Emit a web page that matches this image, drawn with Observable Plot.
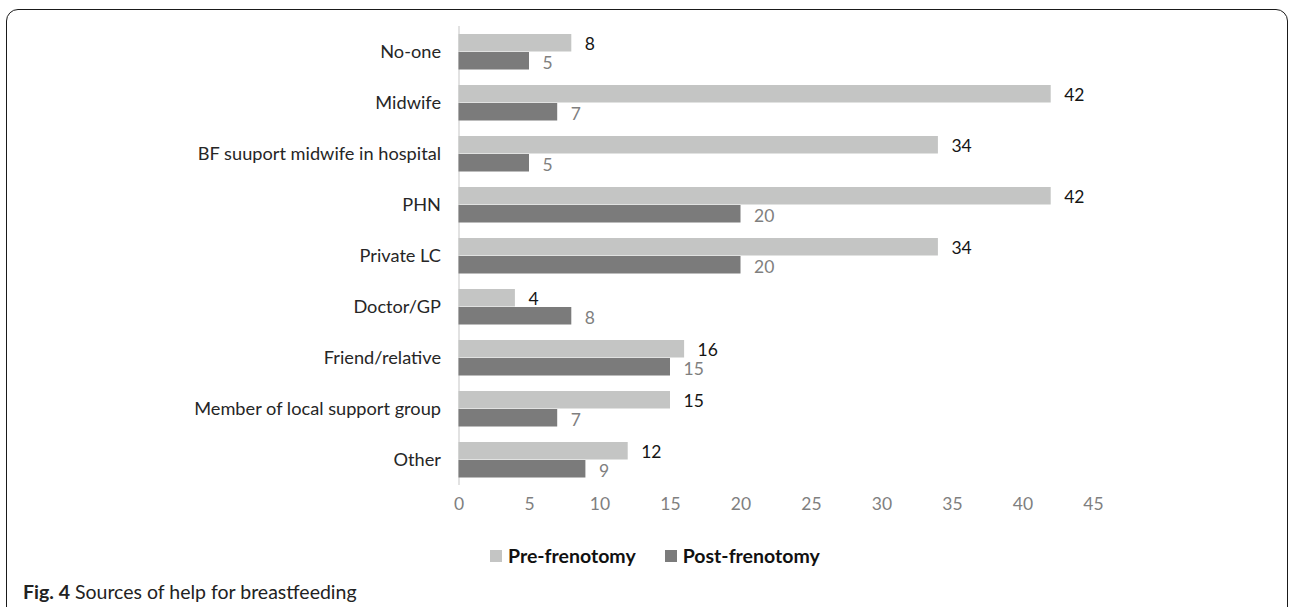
<!DOCTYPE html>
<html><head><meta charset="utf-8">
<script src="https://cdn.jsdelivr.net/npm/d3@7"></script>
<script src="https://cdn.jsdelivr.net/npm/@observablehq/plot@0.6"></script>
<style>
html,body{margin:0;padding:0;background:#fff;width:1289px;height:607px;overflow:hidden;position:relative;font-family:Lato,sans-serif}
#frame{position:absolute;left:6px;top:9px;width:1282px;height:660px;border:1.5px solid #1a1a1a;border-radius:12px;box-sizing:border-box}
#chart{position:absolute;left:0;top:0}
#legend{position:absolute;left:490px;top:544px}
#caption{position:absolute;left:23px;top:580px;font-size:19.5px;color:#222;font-family:Lato,sans-serif;white-space:nowrap}
#chart [aria-label="x-axis tick label"]{fill:#7f7f7f}
#chart [aria-label="fy-axis tick label"]{fill:#262626;font-size:18.2px}
.lg-swatches{font-family:Lato,sans-serif !important;font-size:19.5px !important;font-weight:bold !important;color:#111 !important;margin:0 !important;min-height:0 !important}
.lg-swatch{margin-right:29px !important}
.lg-swatch > svg{margin-right:6px !important}
</style></head>
<body>
<div id="frame"></div>
<div id="chart"></div>
<div id="legend"></div>
<div id="caption"><b>Fig. 4</b> Sources of help for breastfeeding</div>
<script>
const categories = ["No-one","Midwife","BF suuport midwife in hospital","PHN","Private LC","Doctor/GP","Friend/relative","Member of local support group","Other"];
const seriesNames = ["Pre-frenotomy","Post-frenotomy"];
const preValues = [8,42,34,42,34,4,16,15,12];
const postValues = [5,7,5,20,20,8,15,7,9];
const xTicks = [0,5,10,15,20,25,30,35,40,45];
const seriesColors = ["#c4c5c4","#7b7b7b"];

const data = [];
categories.forEach((c,i)=>{
  data.push({category:c, series:seriesNames[0], value:preValues[i]});
  data.push({category:c, series:seriesNames[1], value:postValues[i]});
});

const chart = Plot.plot({
  width:1289, height:530,
  marginLeft:458.5, marginRight:196, marginTop:26, marginBottom:45,
  style:{fontFamily:"Lato, sans-serif", fontSize:"17.5px", background:"transparent", overflow:"visible"},
  x:{domain:[0,45], ticks:xTicks, tickSize:0, tickPadding:19, label:null},
  fy:{domain:categories, paddingInner:0.275, paddingOuter:0.1375, label:null, axis:"left", tickSize:0, tickPadding:18},
  y:{domain:seriesNames, padding:0, axis:null, label:null},
  color:{domain:seriesNames, range:seriesColors},
  marks:[
    Plot.ruleX([0], {stroke:"#d9d9d9", strokeWidth:1.5, insetTop:-7, insetBottom:-7}),
    Plot.barX(data, {x:"value", y:"series", fy:"category", fill:"series", insetBottom:0.5}),
    Plot.text(data.filter(d=>d.series===seriesNames[0]), {x:"value", y:"series", fy:"category", text:d=>String(d.value), dx:13, dy:1, textAnchor:"start", fill:"#151515", fontSize:17.5}),
    Plot.text(data.filter(d=>d.series===seriesNames[1]), {x:"value", y:"series", fy:"category", text:d=>String(d.value), dx:13, dy:1.5, textAnchor:"start", fill:"#7f7f7f", fontSize:17.5})
  ]
});
document.getElementById("chart").appendChild(chart);

const legend = Plot.legend({color:{type:"ordinal", domain:seriesNames, range:seriesColors}, swatchSize:12, className:"lg"});
document.getElementById("legend").appendChild(legend);
</script>
</body></html>
